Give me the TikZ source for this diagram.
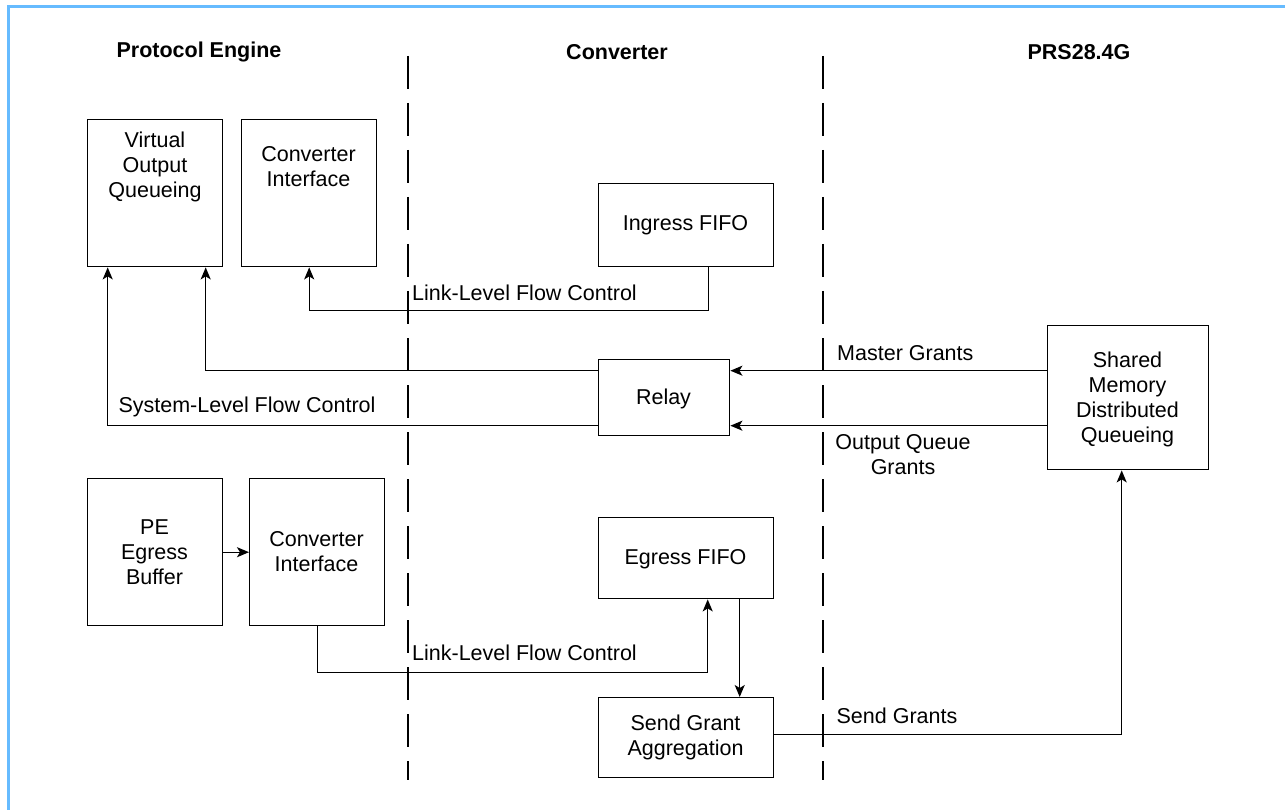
\documentclass[tikz,border=0pt]{standalone}
\usepackage{fontspec}
\setmainfont{Liberation Sans}
\usetikzlibrary{arrows.meta}
\definecolor{frameblue}{RGB}{102,187,255}

\begin{document}
\begin{tikzpicture}[x=1pt,y=-1pt,
  box/.style={draw,line width=1.4pt,inner sep=0pt,anchor=north west},
  txt/.style={font=\fontsize{21.5}{25}\selectfont,align=center,inner sep=0pt},
  head/.style={font=\fontsize{21.5}{25}\selectfont\bfseries,inner sep=0pt},
  conn/.style={line width=1.4pt},
  arr/.style={conn,-{Stealth[length=12pt,width=10pt,inset=3pt]}},
  divider/.style={line width=1.2pt,dash pattern=on 33pt off 14pt}]
\useasboundingbox (0,0) rectangle (1285,810);

% frame
\draw[frameblue,line width=3pt] (8,810) -- (8,7) -- (1285,7);

% column headings
\node[head] (hPE)  at (199,52)  {Protocol Engine};
\node[head] (hCV)  at (617,52)  {Converter};
\node[head] (hPRS) at (1079,52) {PRS28.4G};

% column dividers
\draw[divider] (408,56) -- (408,780);
\draw[divider] (823,56) -- (823,780);

% blocks
\node[box,minimum width=135,minimum height=147] (voq)   at (87,119)  {};
\node[box,minimum width=135,minimum height=147] (ciTop) at (241,119) {};
\node[box,minimum width=175,minimum height=83]  (ingress) at (598,183) {};
\node[box,minimum width=131,minimum height=76]  (relay) at (598,359) {};
\node[box,minimum width=161,minimum height=144] (shm)   at (1047,325) {};
\node[box,minimum width=135,minimum height=147] (peb)   at (87,478)  {};
\node[box,minimum width=135,minimum height=147] (ciBot) at (249,478) {};
\node[box,minimum width=175,minimum height=81]  (egress) at (598,517) {};
\node[box,minimum width=175,minimum height=80]  (sga)   at (598,697) {};

% block texts
\node[txt] (voqT)    at (155,167)   {Virtual\\Output\\Queueing};
\node[txt] (ciTopT)  at (308.5,167) {Converter\\Interface};
\node[txt] (ingressT) at (685.5,225) {Ingress FIFO};
\node[txt] (relayT)  at (663.5,399) {Relay};
\node[txt] (shmT)    at (1127.5,399) {Shared\\Memory\\Distributed\\Queueing};
\node[txt] (pebT)    at (154.5,552) {PE\\Egress\\Buffer};
\node[txt] (ciBotT)  at (316.5,552) {Converter\\Interface};
\node[txt] (egressT) at (685.5,559) {Egress FIFO};
\node[txt] (sgaT)    at (685.5,737) {Send Grant\\Aggregation};

% link-level flow control, ingress side
\draw[arr] ([xshift=22.5pt]ingress.south) -- ++(0,43) -| (ciTop.south);
\node[txt] (llfc1) at (524.5,293) {Link-Level Flow Control};

% relay to virtual output queueing
\draw[arr] ([yshift=27pt]relay.west) -| ([xshift=50.5pt]voq.south);
\draw[arr] ([yshift=-28pt]relay.west) -| ([xshift=-47.5pt]voq.south);
\node[txt] (slfc) at (247,407) {System-Level Flow Control};

% grants into the relay
\draw[arr] ([yshift=27pt]shm.west) -- ([yshift=27pt]relay.east);
\draw[arr] ([yshift=-28pt]shm.west) -- ([yshift=-28pt]relay.east);
\node[txt,anchor=west] (mg) at (837,353) {Master Grants};
\node[txt] (oqg) at (903,455) {Output Queue\\Grants};

% egress path
\draw[arr] (peb.east) -- (ciBot.west);
\draw[arr] (ciBot.south) -- ++(0,46) -| ([xshift=21.5pt]egress.south);
\node[txt] (llfc2) at (524.5,653) {Link-Level Flow Control};
\draw[arr] ([xshift=53.5pt]egress.south) -- ([xshift=53.5pt]sga.north);
\draw[arr] ([yshift=3pt]sga.east) -| ([xshift=-6.5pt]shm.south);
\node[txt] (sg) at (897,716) {Send Grants};
\end{tikzpicture}
\end{document}
